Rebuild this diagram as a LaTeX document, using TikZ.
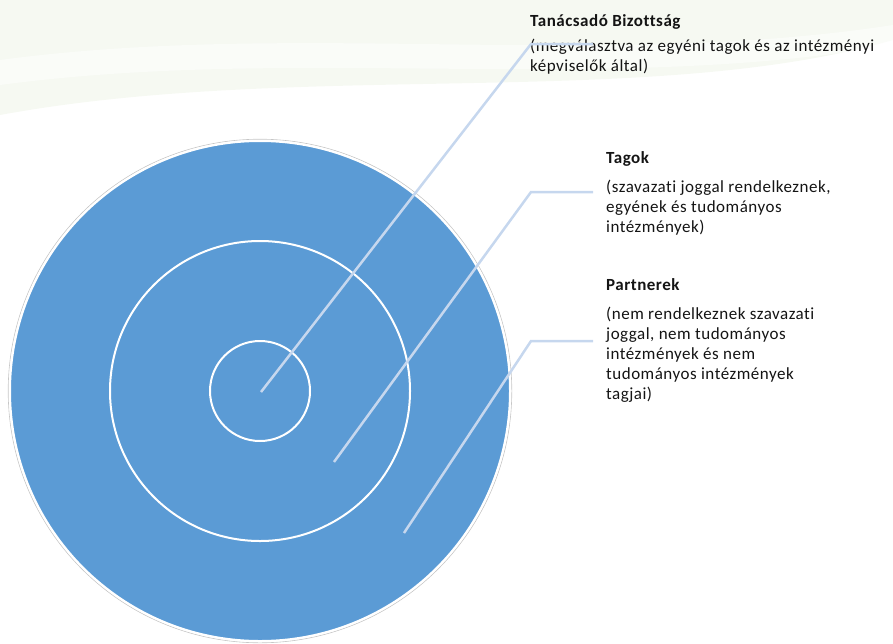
\documentclass[tikz,border=0pt]{standalone}
\usepackage{fontspec}
\setmainfont{Carlito}[Ligatures=NoCommon, LetterSpace=3]
\usetikzlibrary{positioning}
\definecolor{ring}{HTML}{5B9BD5}
\definecolor{leader}{HTML}{C6D7EE}
\definecolor{swoosh}{HTML}{F6F9F2}
\definecolor{txt}{HTML}{141414}

\begin{document}
\begin{tikzpicture}[x=1pt, y=-1pt,
    disc/.style={circle, draw=white, line width=2pt, inner sep=0pt},
    headtext/.style={anchor=base west, inner sep=0pt, font=\fontsize{17}{20}\selectfont\bfseries, text=txt},
    bodytext/.style={anchor=north west, inner sep=0pt, align=left, font=\fontsize{17}{20}\selectfont, text=txt},
    leaderline/.style={draw=leader, line width=2.5pt}]

    \useasboundingbox (0,0) rectangle (893,643);

    % faint background band at the top
    \fill[swoosh] (0,0) -- (893,0) -- (893,40) .. controls (650,110) and (300,60) .. (0,115) -- cycle;
    \fill[white, opacity=0.5] (0,60) .. controls (300,20) and (600,70) .. (893,25) -- (893,45) .. controls (600,95) and (300,45) .. (0,85) -- cycle;

    % Nested circles
    \draw[gray!45, line width=0.6pt] (260,391) circle (251.8);
    \node[disc, fill=ring, minimum size=500pt] (partner) at (260,391) {};
    \node[disc, minimum size=300pt] (member) at (260,391) {};
    \node[disc, minimum size=100pt] (board) at (260,391) {};

    % Labels on the right
    \node[headtext] (boardhead) at (530,26) {Tanácsadó Bizottság};
    \node[bodytext] (boardtext) at (530,39) {(megválasztva az egyéni tagok és az intézményi\\képviselők által)};

    \node[headtext] (memberhead) at (606,163) {Tagok};
    \node[bodytext] (membertext) at (606,180) {(szavazati joggal rendelkeznek,\\egyének és tudományos\\intézmények)};

    \node[headtext] (partnerhead) at (606,290) {Partnerek};
    \node[bodytext] (partnertext) at (606,307) {(nem rendelkeznek szavazati\\joggal, nem tudományos\\intézmények és nem\\tudományos intézmények\\tagjai)};

    % Leader lines from the rings to the labels
    \coordinate (boardtip) at (261,392);
    \coordinate (boardbend) at (531,44);
    \coordinate (boardend) at (593,44);
    \draw[leaderline] (boardtip) -- (boardbend) -- (boardend);

    \coordinate (membertip) at (334,462);
    \coordinate (memberbend) at (531,192);
    \coordinate (memberend) at (593,192);
    \draw[leaderline] (membertip) -- (memberbend) -- (memberend);

    \coordinate (partnertip) at (404,533);
    \coordinate (partnerbend) at (531,341);
    \coordinate (partnerend) at (593,341);
    \draw[leaderline] (partnertip) -- (partnerbend) -- (partnerend);

\end{tikzpicture}
\end{document}
